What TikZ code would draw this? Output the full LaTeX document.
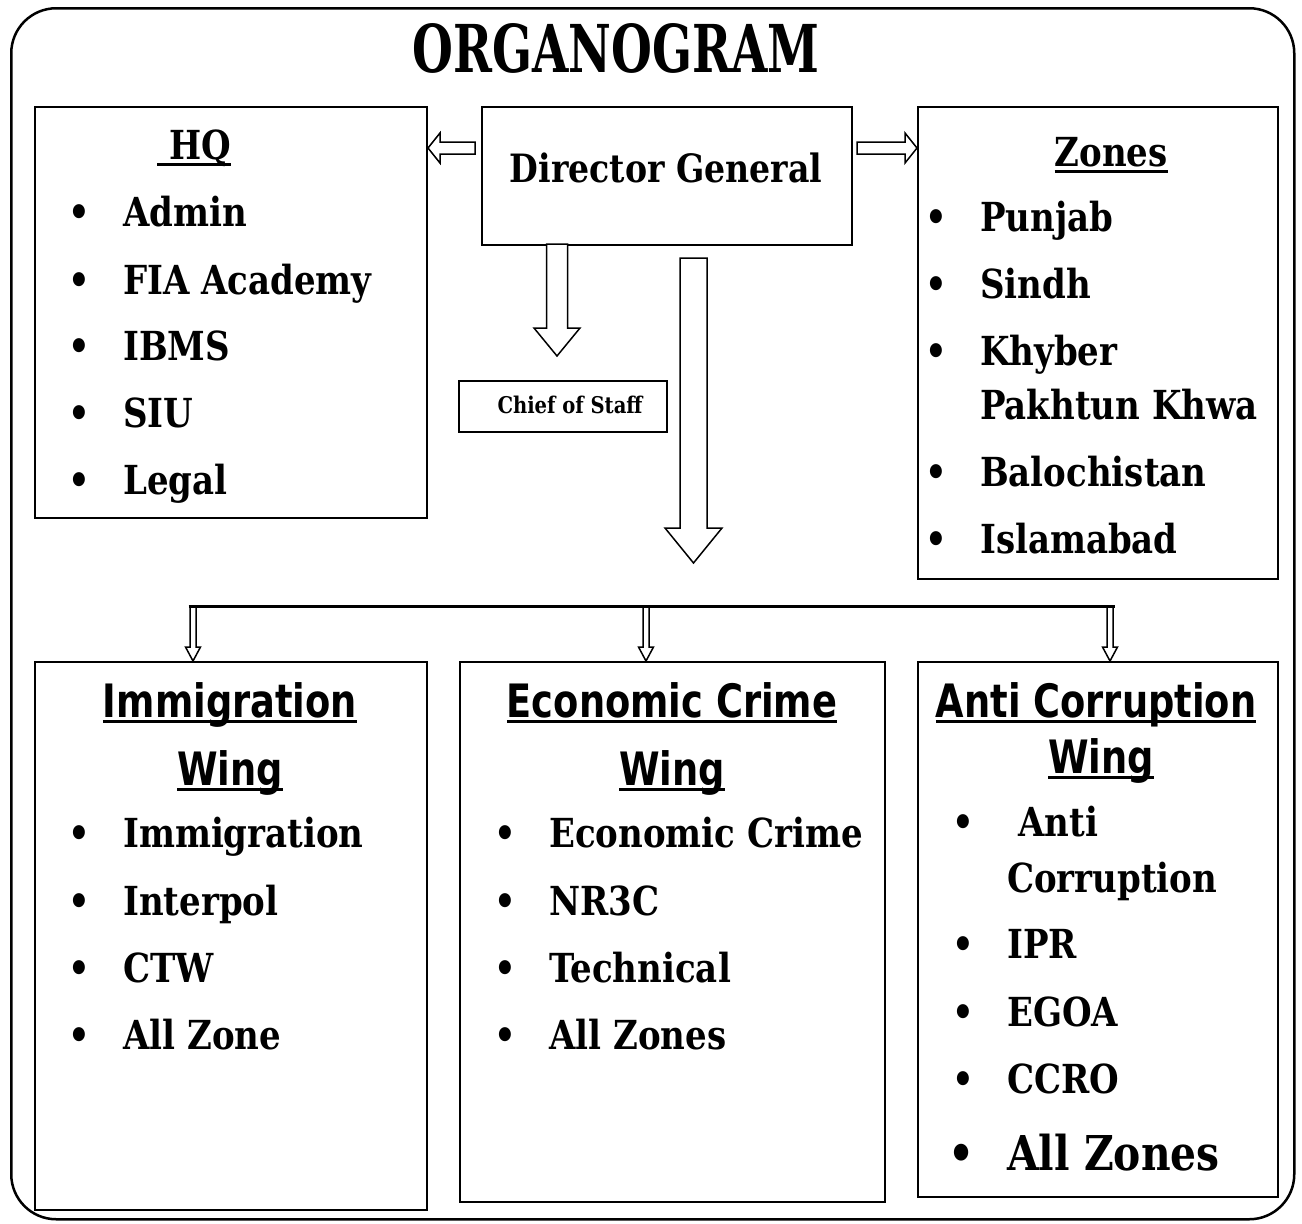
\documentclass[tikz,border=0pt]{standalone}
\usepackage{fontspec}
\newfontfamily\slabfont[FakeStretch=0.85]{DejaVu Serif}
\newfontfamily\titlefont[FakeStretch=0.71]{DejaVu Serif}
\newfontfamily\wingfont[FakeStretch=0.8]{DejaVu Sans}
\usetikzlibrary{calc}
\newcommand{\ulbox}[1]{\sbox0{#1}\rlap{\rule[-6pt]{\wd0}{3pt}}\usebox0}
\newcommand{\bul}{\llap{\textbullet\hspace{33pt}}}
% hollow block arrows between two points
\newcommand{\downblock}[5]{%
  \draw[blockarr] let \p1=(#1), \p2=(#2) in
    (\x1-#3pt,\y1) -- (\x1+#3pt,\y1) -- (\x1+#3pt,\y2+#5pt) -- (\x1+#4pt,\y2+#5pt)
    -- (\x1,\y2) -- (\x1-#4pt,\y2+#5pt) -- (\x1-#3pt,\y2+#5pt) -- cycle;}
\newcommand{\leftblock}[5]{%
  \draw[blockarr] let \p1=(#1), \p2=(#2) in
    (\x1,\y1-#3pt) -- (\x1,\y1+#3pt) -- (\x2+#5pt,\y1+#3pt) -- (\x2+#5pt,\y1+#4pt)
    -- (\x2,\y1) -- (\x2+#5pt,\y1-#4pt) -- (\x2+#5pt,\y1-#3pt) -- cycle;}
\newcommand{\rightblock}[5]{%
  \draw[blockarr] let \p1=(#1), \p2=(#2) in
    (\x1,\y1-#3pt) -- (\x1,\y1+#3pt) -- (\x2-#5pt,\y1+#3pt) -- (\x2-#5pt,\y1+#4pt)
    -- (\x2,\y1) -- (\x2-#5pt,\y1-#4pt) -- (\x2-#5pt,\y1-#3pt) -- cycle;}
\tikzset{
  frame/.style={draw, line width=2.5, rounded corners=45, anchor=north west},
  box/.style={draw, line width=2, anchor=north west},
  head/.style={font=\slabfont\bfseries\fontsize{40}{40}\selectfont, inner sep=0, text height=29, text depth=0},
  item/.style={head, anchor=west},
  bigitem/.style={item, font=\slabfont\bfseries\fontsize{48}{48}\selectfont, text height=35},
  wing/.style={font=\wingfont\bfseries\fontsize{46}{46}\selectfont, inner sep=0, text height=34, text depth=0},
  blockarr/.style={draw, line width=1.5, fill=white, line join=miter},
  bar/.style={line width=3}
}
\begin{document}
\begin{tikzpicture}[x=1pt, y=-1pt]
  \useasboundingbox (0,0) rectangle (1302,1224);
  \node[frame, minimum width=1283, minimum height=1211] (frame) at (10,7) {};
  \node[font=\titlefont\bfseries\fontsize{66}{66}\selectfont, inner sep=0] (title) at (616,48) {ORGANOGRAM};

  % top row
  \node[box, minimum width=392, minimum height=411] (hq) at (34,106) {};
  \node[box, minimum width=370, minimum height=138] (dg) at (481,106) {};
  \node[box, minimum width=360, minimum height=472] (zones) at (917,106) {};
  \node[head, font=\slabfont\bfseries\fontsize{39}{39}\selectfont] (dgtext) at (666,168) {Director General};
  \node[box, minimum width=208, minimum height=51] (cos) at (458,380) {};
  \node[inner sep=0, font=\slabfont\bfseries\fontsize{23}{23}\selectfont] (costext) at (570,405) {Chief of Staff};

  \node[head] (hqhead) at (194,145) {\ulbox{\ HQ}};
  \foreach \txt/\yy [count=\i] in {Admin/212, FIA Academy/280, IBMS/346, SIU/413, Legal/480}
    \node[item] (hq\i) at (123,\yy) {\bul\txt};

  \node[head] (zhead) at (1111,152) {\ulbox{Zones}};
  \foreach \txt/\yy [count=\i] in {Punjab/217, Sindh/284, Khyber/351, Balochistan/472, Islamabad/539}
    \node[item] (z\i) at (980,\yy) {\bul\txt};
  \node[item] (z3b) at (980,405) {Pakhtun Khwa};

  % bottom row
  \node[box, minimum width=392, minimum height=548] (imm) at (34,661) {};
  \node[box, minimum width=425, minimum height=540] (eco) at (459,661) {};
  \node[box, minimum width=360, minimum height=535] (anti) at (917,661) {};

  \node[wing] (immh1) at (230,700) {\ulbox{Immigration}};
  \node[wing] (immh2) at (230,768) {\ulbox{Wing}};
  \foreach \txt/\yy [count=\i] in {Immigration/833, Interpol/901, CTW/968, All Zone/1035}
    \node[item] (imm\i) at (123,\yy) {\bul\txt};

  \node[wing] (ecoh1) at (672,700) {\ulbox{Economic Crime}};
  \node[wing] (ecoh2) at (672,768) {\ulbox{Wing}};
  \foreach \txt/\yy [count=\i] in {Economic Crime/833, NR3C/901, Technical/968, All Zones/1035}
    \node[item] (eco\i) at (549,\yy) {\bul\txt};

  \node[wing] (antih1) at (1096,700) {\ulbox{Anti Corruption}};
  \node[wing] (antih2) at (1101,756) {\ulbox{Wing}};
  \node[item] (anti1) at (1007,822) {\bul\hspace{11pt}Anti};
  \node[item] (anti1b) at (1007,878) {Corruption};
  \foreach \txt/\yy [count=\i from 2] in {IPR/944, EGOA/1012, CCRO/1079}
    \node[item] (anti\i) at (1007,\yy) {\bul\txt};
  \node[bigitem] (anti5) at (1007,1153) {\bul All Zones};

  % arrows
  \coordinate (dgL) at (475,148);
  \coordinate (dgR) at (857,148);
  \leftblock{dgL}{hq.east |- dgL}{6}{15}{12}
  \rightblock{dgR}{zones.west |- dgR}{6}{15}{12}
  \coordinate (cosT) at (557,244);
  \coordinate (cosB) at (557,356);
  \downblock{cosT}{cosB}{10.5}{23}{28}
  \coordinate (wingT) at (693.5,258);
  \coordinate (wingB) at (693.5,563);
  \downblock{wingT}{wingB}{13.5}{28.5}{35}

  \coordinate (br1) at (193,606);
  \coordinate (br2) at (646,606);
  \coordinate (br3) at (1110,606);
  \downblock{br1}{imm.north -| br1}{3}{7.5}{14}
  \downblock{br2}{eco.north -| br2}{3}{7.5}{14}
  \downblock{br3}{anti.north -| br3}{3}{7.5}{14}
  \draw[bar] ($(br1)+(-4.5,0)$) -- ($(br3)+(4.5,0)$);
\end{tikzpicture}
\end{document}
